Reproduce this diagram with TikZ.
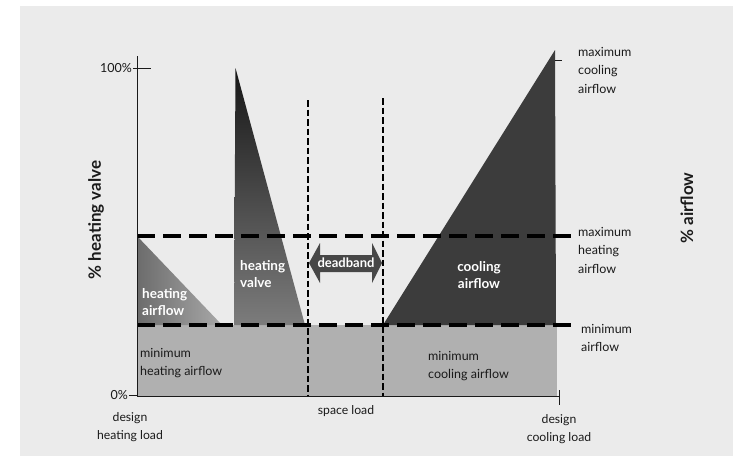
\documentclass[tikz,border=0pt]{standalone}
\usepackage{fontspec}
\setmainfont{Lato}
\definecolor{pagebg}{HTML}{EBEBEB}
\definecolor{mingray}{HTML}{B0B0B0}
\definecolor{heatdark}{HTML}{6C6C6C}
\definecolor{heatlight}{HTML}{A8A8A8}
\definecolor{valvetop}{HTML}{161616}
\definecolor{valvebot}{HTML}{7C7C7C}
\definecolor{coolfill}{HTML}{3C3C3C}
\definecolor{arrowfill}{HTML}{474747}
\definecolor{ink}{HTML}{1A1A1A}
\tikzset{
  reglabel/.style={font=\fontsize{12.5}{18.5}\selectfont, text=ink, inner sep=0pt, align=left},
  ctrlabel/.style={font=\fontsize{12.2}{18.5}\selectfont, text=ink, inner sep=0pt, align=center},
  boldlabel/.style={font=\bfseries\fontsize{13.5}{17.5}\selectfont, text=white, inner sep=0pt, align=left},
  axislabel/.style={font=\bfseries\fontsize{17}{20}\selectfont, text=ink, inner sep=0pt, rotate=90},
  thickdash/.style={line width=3.6pt, dash pattern=on 18pt off 8pt, draw=black},
  thindash/.style={line width=1.4pt, dash pattern=on 6.5pt off 3pt, draw=black},
  axisline/.style={line width=0.9pt, draw=ink},
}
\begin{document}
\begin{tikzpicture}[x=1pt,y=-1pt]
\useasboundingbox (0,0) rectangle (733,456);
\fill[white] (0,0) rectangle (733,456);
\fill[pagebg] (20,6) rectangle (733,456);
% minimum airflow area
\fill[mingray] (137,325) rectangle (557,396);
% heating airflow triangle
\shade[left color=heatdark, right color=heatlight] (137,236) -- (137,325) -- (222,325) -- cycle;
% heating valve
\shade[top color=valvetop, bottom color=valvebot] (234,325) -- (235.5,68) -- (305,325) -- cycle;
% cooling airflow
\fill[coolfill] (383,325) -- (555,50) -- (556,325) -- cycle;
\draw[axisline] (555,60) -- (562,60);
% vertical dashed lines
\coordinate (v1t) at (308,100);
\coordinate (v1b) at (308,396);
\coordinate (v2t) at (383,98);
\coordinate (v2b) at (383,396);
\draw[thindash] (v1t) -- (v1b);
\draw[thindash] (v2t) -- (v2b);
% horizontal thick dashed lines
\coordinate (h1l) at (137,236);
\coordinate (h1r) at (572,236);
\coordinate (h2l) at (137,325);
\coordinate (h2r) at (574,325);
\draw[thickdash] (h1l) -- (h1r);
\draw[thickdash] (h2l) -- (h2r);
% axes
\coordinate (ytop) at (137,56);
\coordinate (orig) at (137,396);
\coordinate (xend) at (559,396);
\draw[axisline] (ytop) -- (orig) -- (xend);
\draw[axisline] (133,68) -- (151,68);
\draw[axisline] (129,395.5) -- (137,395.5);
\draw[axisline] (559,390) -- (559,405);
% deadband arrow
\fill[arrowfill] (309,263) -- (320,243) -- (320,255) -- (372,255) -- (372,243) -- (382,263)
  -- (372,283) -- (372,272) -- (320,272) -- (320,283) -- cycle;
\node[font=\bfseries\fontsize{13}{15}\selectfont, text=white, inner sep=0pt] (deadband) at (346,263) {deadband};
% tick labels
\node[reglabel, anchor=east] (p100) at (132,68) {100\%};
\node[reglabel, anchor=east] (p0) at (128,395) {0\%};
% axis titles
\node[axislabel] (yvalve) at (96,220) {\% heating valve};
\node[axislabel] (yair) at (687,208) {\% airflow};
% bottom labels
\node[ctrlabel] (dhl) at (130,427) {design\\heating load};
\node[ctrlabel] (sl) at (346,411) {space load};
\node[ctrlabel] (dcl) at (559,429) {design\\cooling load};
% right labels
\node[reglabel, anchor=west] (mca) at (578,70) {maximum\\cooling\\airflow};
\node[reglabel, anchor=west] (mha) at (578,250) {maximum\\heating\\airflow};
\node[reglabel, anchor=west] (mina) at (581,338) {minimum\\airflow};
% inner labels
\node[reglabel, anchor=west] (minh) at (140,363) {minimum\\heating airflow};
\node[reglabel, anchor=west] (minc) at (428,366) {minimum\\cooling airflow};
\node[boldlabel, anchor=west] (ha) at (142,302) {heating\\airflow};
\node[boldlabel, anchor=west] (hv) at (240,274) {heating\\valve};
\node[boldlabel, align=center] (ca) at (479,275) {cooling\\airflow};
\end{tikzpicture}
\end{document}
